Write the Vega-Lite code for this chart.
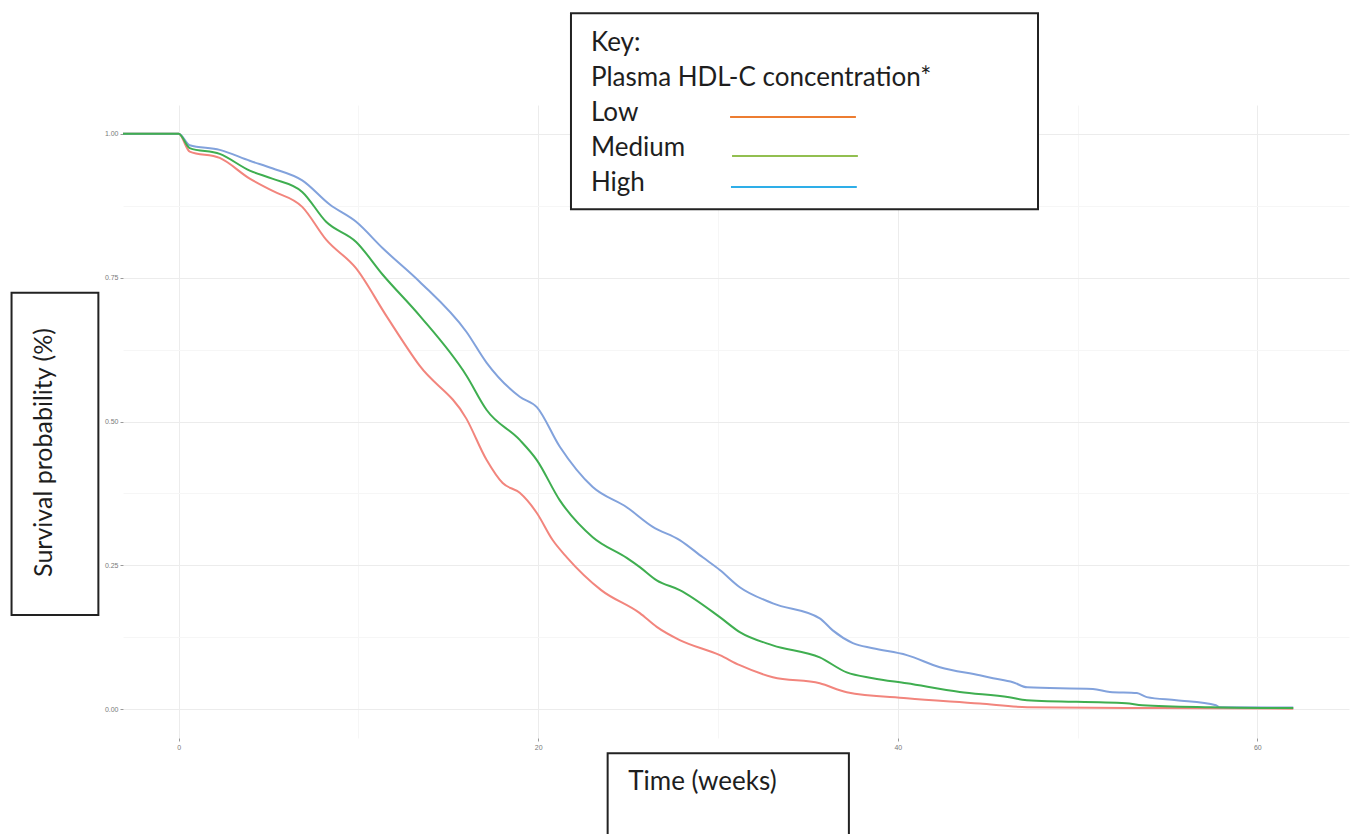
{
  "$schema": "https://vega.github.io/schema/vega-lite/v6.json",
  "autosize": {"type": "none"},
  "width": 1226,
  "height": 633,
  "padding": {"left": 123, "top": 105, "right": 1, "bottom": 96},
  "background": "white",
  "config": {"view": {"stroke": null}},
  "layer": [
    {
      "data": {"values": [
        {"g":"Low","t":-3.1,"s":1},{"g":"Low","t":0,"s":1},{"g":"Low","t":0.61,"s":0.969},{"g":"Low","t":2.28,"s":0.958},{"g":"Low","t":3.95,"s":0.922},{"g":"Low","t":5.2,"s":0.901},{"g":"Low","t":6.87,"s":0.873},{"g":"Low","t":8.2,"s":0.816},{"g":"Low","t":9.87,"s":0.766},{"g":"Low","t":11.54,"s":0.684},{"g":"Low","t":13.4,"s":0.597},{"g":"Low","t":16,"s":0.505},{"g":"Low","t":17.13,"s":0.433},{"g":"Low","t":18.02,"s":0.393},{"g":"Low","t":18.97,"s":0.376},{"g":"Low","t":19.92,"s":0.341},{"g":"Low","t":20.8,"s":0.294},{"g":"Low","t":21.59,"s":0.264},{"g":"Low","t":23.5,"s":0.207},{"g":"Low","t":25.65,"s":0.167},{"g":"Low","t":26.59,"s":0.143},{"g":"Low","t":27.87,"s":0.12},{"g":"Low","t":30.1,"s":0.094},{"g":"Low","t":31.21,"s":0.0765},{"g":"Low","t":33.05,"s":0.0557},{"g":"Low","t":35.66,"s":0.045},{"g":"Low","t":37.16,"s":0.0296},{"g":"Low","t":40.5,"s":0.019},{"g":"Low","t":44.56,"s":0.01},{"g":"Low","t":47.2,"s":0.0035},{"g":"Low","t":54.6,"s":0.002},{"g":"Low","t":62,"s":0.001},
        {"g":"High","t":-3.1,"s":1},{"g":"High","t":0,"s":1},{"g":"High","t":0.61,"s":0.98},{"g":"High","t":2.28,"s":0.972},{"g":"High","t":3.95,"s":0.953},{"g":"High","t":5.2,"s":0.94},{"g":"High","t":6.87,"s":0.919},{"g":"High","t":8.4,"s":0.877},{"g":"High","t":9.87,"s":0.847},{"g":"High","t":11.35,"s":0.801},{"g":"High","t":13.4,"s":0.743},{"g":"High","t":16,"s":0.656},{"g":"High","t":17.13,"s":0.602},{"g":"High","t":18.97,"s":0.543},{"g":"High","t":19.92,"s":0.525},{"g":"High","t":21.2,"s":0.456},{"g":"High","t":23.03,"s":0.386},{"g":"High","t":24.92,"s":0.351},{"g":"High","t":26.37,"s":0.317},{"g":"High","t":27.87,"s":0.294},{"g":"High","t":29.15,"s":0.264},{"g":"High","t":30.1,"s":0.242},{"g":"High","t":31.21,"s":0.212},{"g":"High","t":33.05,"s":0.184},{"g":"High","t":35.66,"s":0.158},{"g":"High","t":36.38,"s":0.137},{"g":"High","t":37.5,"s":0.115},{"g":"High","t":38.61,"s":0.106},{"g":"High","t":40.5,"s":0.094},{"g":"High","t":42.34,"s":0.073},{"g":"High","t":44.56,"s":0.059},{"g":"High","t":45.3,"s":0.054},{"g":"High","t":46.4,"s":0.047},{"g":"High","t":47.2,"s":0.038},{"g":"High","t":50.85,"s":0.035},{"g":"High","t":51.8,"s":0.03},{"g":"High","t":53.3,"s":0.028},{"g":"High","t":53.85,"s":0.021},{"g":"High","t":55.5,"s":0.0157},{"g":"High","t":57.7,"s":0.007},{"g":"High","t":57.9,"s":0.0035},{"g":"High","t":62,"s":0.003},
        {"g":"Medium","t":-3.1,"s":1},{"g":"Medium","t":0,"s":1},{"g":"Medium","t":0.61,"s":0.975},{"g":"Medium","t":2.28,"s":0.965},{"g":"Medium","t":3.95,"s":0.936},{"g":"Medium","t":5.2,"s":0.922},{"g":"Medium","t":6.87,"s":0.899},{"g":"Medium","t":8.2,"s":0.847},{"g":"Medium","t":9.87,"s":0.812},{"g":"Medium","t":11.35,"s":0.755},{"g":"Medium","t":13.4,"s":0.684},{"g":"Medium","t":16,"s":0.58},{"g":"Medium","t":17.13,"s":0.52},{"g":"Medium","t":18.97,"s":0.468},{"g":"Medium","t":19.92,"s":0.433},{"g":"Medium","t":21.2,"s":0.363},{"g":"Medium","t":23.03,"s":0.299},{"g":"Medium","t":24.92,"s":0.263},{"g":"Medium","t":25.65,"s":0.247},{"g":"Medium","t":26.59,"s":0.224},{"g":"Medium","t":27.87,"s":0.207},{"g":"Medium","t":30.1,"s":0.16},{"g":"Medium","t":31.21,"s":0.134},{"g":"Medium","t":33.05,"s":0.111},{"g":"Medium","t":35.66,"s":0.09},{"g":"Medium","t":37.16,"s":0.064},{"g":"Medium","t":38.61,"s":0.054},{"g":"Medium","t":40.5,"s":0.045},{"g":"Medium","t":43.45,"s":0.03},{"g":"Medium","t":46.2,"s":0.021},{"g":"Medium","t":47.18,"s":0.0157},{"g":"Medium","t":52.7,"s":0.0104},{"g":"Medium","t":53.6,"s":0.007},{"g":"Medium","t":57.4,"s":0.0035},{"g":"Medium","t":62,"s":0.002}
      ]},
      "mark": {"type": "line", "strokeWidth": 2, "interpolate": "monotone"},
      "encoding": {
        "x": {"field": "t", "type": "quantitative",
          "scale": {"domain": [-3.1, 65.1], "nice": false, "zero": false},
          "axis": {"title": null, "values": [0,10,20,30,40,50,60], "format": "d",
            "labelExpr": "datum.value % 20 === 0 ? datum.label : ''",
            "domain": false, "labelFont": "Liberation Sans", "labelFontSize": 7, "labelColor": "#7a7a7a",
            "labelPadding": 2, "tickSize": 3, "tickColor": "#9a9a9a",
            "tickOpacity": {"condition": {"test": "datum.value % 20 === 0", "value": 1}, "value": 0},
            "gridColor": {"condition": {"test": "datum.value % 20 === 0", "value": "#ececec"}, "value": "#f6f6f6"},
            "gridWidth": 1}},
        "y": {"field": "s", "type": "quantitative",
          "scale": {"domain": [-0.05, 1.05], "nice": false, "zero": false},
          "axis": {"title": null, "values": [0,0.125,0.25,0.375,0.5,0.625,0.75,0.875,1], "format": ".2f",
            "labelExpr": "datum.value * 4 % 1 === 0 ? datum.label : ''",
            "domain": false, "labelFont": "Liberation Sans", "labelFontSize": 7, "labelColor": "#7a7a7a",
            "labelPadding": 2, "tickSize": 3, "tickColor": "#9a9a9a",
            "tickOpacity": {"condition": {"test": "datum.value * 4 % 1 === 0", "value": 1}, "value": 0},
            "gridColor": {"condition": {"test": "datum.value * 4 % 1 === 0", "value": "#ececec"}, "value": "#f6f6f6"},
            "gridWidth": 1}},
        "color": {"field": "g", "type": "nominal",
          "scale": {"domain": ["Low", "Medium", "High"], "range": ["#f2857d", "#3fae50", "#82a2dc"]},
          "legend": null}
      }
    },
    {
      "data": {"values": [{}]},
      "mark": {"type": "rect", "fill": "white", "stroke": "#222222", "strokeWidth": 2},
      "encoding": {
        "x": {"datum": 21.82, "type": "quantitative"}, "x2": {"datum": 47.8},
        "y": {"datum": 1.2094, "type": "quantitative"}, "y2": {"datum": 0.8687}
      }
    },
    {
      "data": {"values": [{}]},
      "mark": {"type": "text", "text": ["Key:", "Plasma HDL-C concentration*", "Low", "Medium", "High"],
        "align": "left", "baseline": "alphabetic", "lineHeight": 35, "font": "Lato", "fontSize": 26, "color": "#1e1e1e"},
      "encoding": {
        "x": {"datum": 22.93, "type": "quantitative"},
        "y": {"datum": 1.1438, "type": "quantitative"}
      }
    },
    {
      "data": {"values": [{}]},
      "mark": {"type": "rule", "color": "#ed7d31", "strokeWidth": 2},
      "encoding": {"x": {"datum": 30.67, "type": "quantitative"}, "x2": {"datum": 37.67}, "y": {"datum": 1.0291, "type": "quantitative"}}
    },
    {
      "data": {"values": [{}]},
      "mark": {"type": "rule", "color": "#92bf50", "strokeWidth": 2},
      "encoding": {"x": {"datum": 30.78, "type": "quantitative"}, "x2": {"datum": 37.78}, "y": {"datum": 0.9614, "type": "quantitative"}}
    },
    {
      "data": {"values": [{}]},
      "mark": {"type": "rule", "color": "#2eaee8", "strokeWidth": 2},
      "encoding": {"x": {"datum": 30.72, "type": "quantitative"}, "x2": {"datum": 37.72}, "y": {"datum": 0.9075, "type": "quantitative"}}
    },
    {
      "data": {"values": [{}]},
      "mark": {"type": "rect", "fill": "white", "stroke": "#222222", "strokeWidth": 2},
      "encoding": {
        "x": {"datum": -9.3, "type": "quantitative"}, "x2": {"datum": -4.47},
        "y": {"datum": 0.7238, "type": "quantitative"}, "y2": {"datum": 0.1637}
      }
    },
    {
      "data": {"values": [{}]},
      "mark": {"type": "text", "text": "Survival probability (%)", "angle": 270,
        "align": "center", "baseline": "alphabetic", "font": "Lato", "fontSize": 25, "color": "#1e1e1e"},
      "encoding": {
        "x": {"datum": -7.05, "type": "quantitative"},
        "y": {"datum": 0.4461, "type": "quantitative"}
      }
    },
    {
      "data": {"values": [{}]},
      "mark": {"type": "rect", "fill": "white", "stroke": "#222222", "strokeWidth": 2},
      "encoding": {
        "x": {"datum": 23.86, "type": "quantitative"}, "x2": {"datum": 37.28},
        "y": {"datum": -0.0766, "type": "quantitative"}, "y2": {"datum": -0.2273}
      }
    },
    {
      "data": {"values": [{}]},
      "mark": {"type": "text", "text": "Time (weeks)",
        "align": "left", "baseline": "alphabetic", "font": "Lato", "fontSize": 26, "color": "#1e1e1e"},
      "encoding": {
        "x": {"datum": 25.01, "type": "quantitative"},
        "y": {"datum": -0.1404, "type": "quantitative"}
      }
    }
  ]
}
